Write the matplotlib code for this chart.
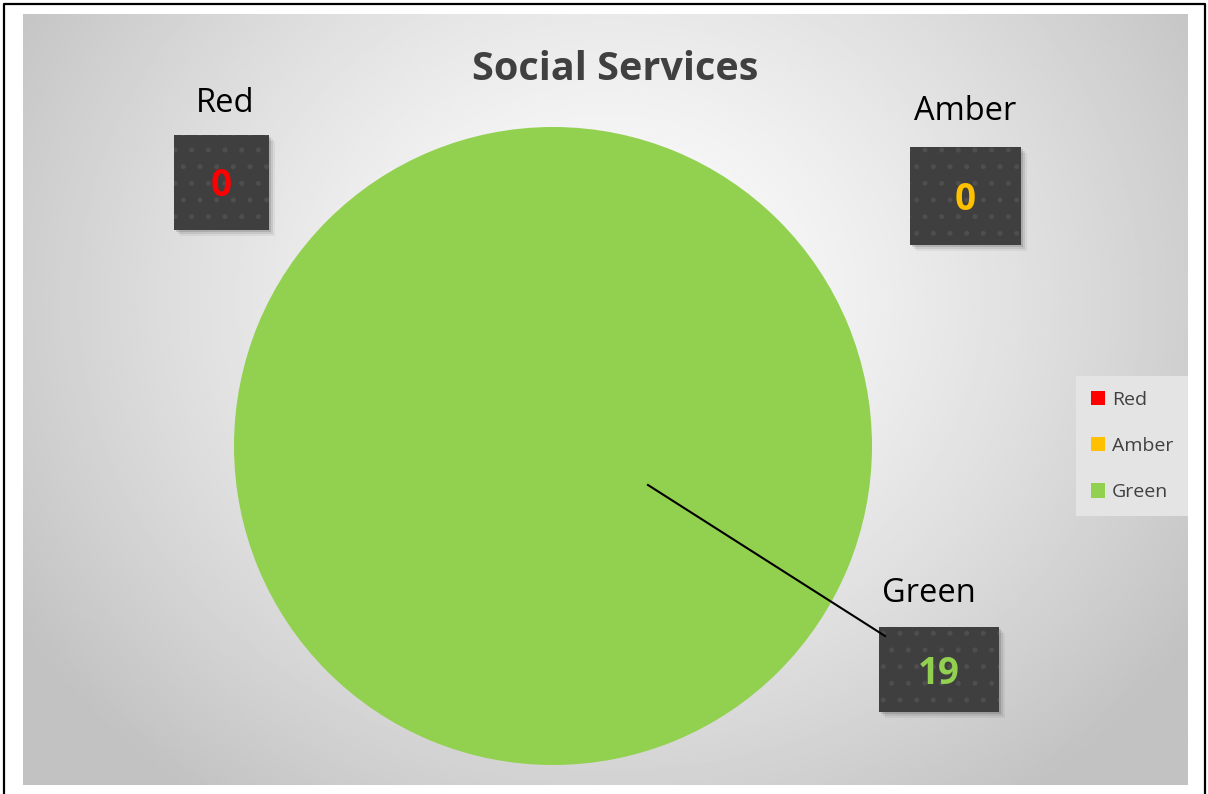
import numpy as np
import matplotlib.pyplot as plt
from matplotlib.patches import Rectangle

# datos del grafico
categories = ['Red', 'Amber', 'Green']
values = [0, 0, 19]
colors = ['#ff0000', '#ffc000', '#92d050']
title = 'Social Services'

FONT = 'Open Sans'
W, H = 1208, 794

plt.rcParams['hatch.linewidth'] = 1.2
plt.rcParams['hatch.color'] = '#4e4e4e'

fig = plt.figure(figsize=(W / 100, H / 100), dpi=100)
ax = fig.add_axes([0, 0, 1, 1])

# fondo con degradado radial
px0, px1, py0, py1 = 23, 1188, 14, 785
gx, gy = np.meshgrid(np.linspace(px0, px1, 400), np.linspace(py0, py1, 300))
d = np.sqrt(((gx - 610) / 700) ** 2 + ((gy - 300) / 620) ** 2)
shade = 1.0 - 0.24 * np.clip(d, 0, 1) ** 1.3
ax.imshow(shade, extent=(px0, px1, py1, py0), cmap='gray', vmin=0, vmax=1,
          interpolation='bilinear', zorder=0)

# borde exterior (sin linea inferior)
ax.plot([3.5, 3.5, 1204.5, 1204.5], [794, 3.5, 3.5, 794], color='black', lw=1.6, zorder=1)

# pastel
wedges, _ = ax.pie(values, colors=colors, center=(553, 446), radius=319,
                   startangle=90, counterclock=False,
                   wedgeprops={'linewidth': 0})
for w in wedges:
    w.set_zorder(2)

ax.set_xlim(0, W)
ax.set_ylim(H, 0)
ax.set_aspect('equal')
ax.axis('off')

ax.text(615, 69, title, ha='center', va='center', fontsize=28.5, fontweight='bold',
        color='#404040', family=FONT, zorder=5)

# etiquetas con caja
label_boxes = {
    'Red': dict(box=(174, 135, 95, 95), name=(225, 103)),
    'Amber': dict(box=(910, 147, 111, 98), name=(965, 112)),
    'Green': dict(box=(879, 627, 120, 85), name=(929, 593)),
}
for cat, val, col in zip(categories, values, colors):
    b = label_boxes[cat]
    x, y, bw, bh = b['box']
    for k, a in [(6, 0.05), (4, 0.08), (2, 0.12)]:
        ax.add_patch(Rectangle((x + k, y + k), bw, bh, facecolor='#000000', alpha=a,
                               edgecolor='none', zorder=3))
    ax.add_patch(Rectangle((x, y), bw, bh, facecolor='#3f3f3f', edgecolor='#4e4e4e',
                           hatch='.', linewidth=0, zorder=4))
    ax.text(x + bw / 2, y + bh / 2 + 4, str(val), ha='center', va='center', fontsize=26.5,
            fontweight='bold', color=col, family=FONT, zorder=5)
    ax.text(b['name'][0], b['name'][1], cat, ha='center', va='center', fontsize=23.5,
            color='black', family=FONT, zorder=5)

# linea guia
ax.plot([648, 885], [485, 636], color='black', lw=1.5, zorder=5)

leg = ax.legend(wedges, categories, loc='center right', bbox_to_anchor=(1188 / W, 1 - 446 / H),
                frameon=True, handlelength=0.75, handleheight=0.75,
                labelspacing=1.45, borderpad=0.75, handletextpad=0.35, borderaxespad=0,
                fancybox=False, prop={'family': FONT, 'size': 14})
leg.get_frame().set_facecolor('#e4e4e4')
leg.get_frame().set_edgecolor('none')
leg.get_frame().set_alpha(1)
for t in leg.get_texts():
    t.set_color('#404040')
leg.set_zorder(6)

fig.savefig('out.png', dpi=100)
